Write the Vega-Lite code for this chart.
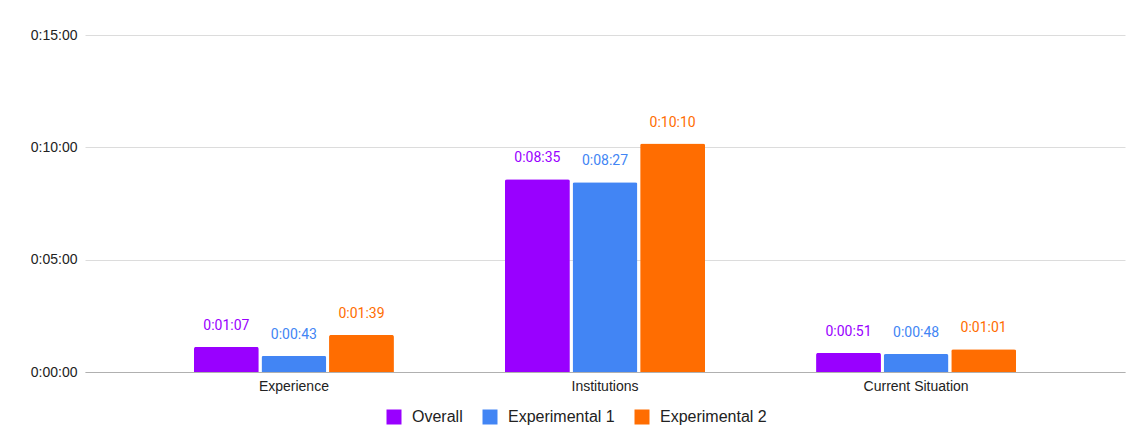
{
  "$schema": "https://vega.github.io/schema/vega-lite/v6.json",
  "width": 1040,
  "height": 337,
  "autosize": {"type": "none"},
  "padding": {"left": 85, "top": 35, "right": 21, "bottom": 74},
  "background": "#ffffff",
  "data": {
    "values": [
      {"topic": "Experience", "group": "Overall", "ms": 67000},
      {"topic": "Experience", "group": "Experimental 1", "ms": 43000},
      {"topic": "Experience", "group": "Experimental 2", "ms": 99000},
      {"topic": "Institutions", "group": "Overall", "ms": 515000},
      {"topic": "Institutions", "group": "Experimental 1", "ms": 507000},
      {"topic": "Institutions", "group": "Experimental 2", "ms": 610000},
      {"topic": "Current Situation", "group": "Overall", "ms": 51000},
      {"topic": "Current Situation", "group": "Experimental 1", "ms": 48000},
      {"topic": "Current Situation", "group": "Experimental 2", "ms": 61000}
    ]
  },
  "encoding": {
    "x": {
      "field": "topic",
      "type": "nominal",
      "sort": null,
      "scale": {"paddingInner": 0.357, "paddingOuter": 0.35},
      "axis": {
        "title": null,
        "labelAngle": 0,
        "ticks": false,
        "labelPadding": 7,
        "labelFont": "Liberation Sans",
        "labelFontSize": 14,
        "labelColor": "#222222",
        "domainColor": "#b0b0b0",
        "domainWidth": 1
      }
    },
    "xOffset": {
      "field": "group",
      "type": "nominal",
      "sort": null,
      "scale": {"paddingInner": 0.04, "paddingOuter": 0}
    },
    "y": {
      "field": "ms",
      "type": "quantitative",
      "scale": {"domain": [0, 900000], "nice": false},
      "axis": {
        "title": null,
        "values": [0, 300000, 600000, 900000],
        "labelExpr": "utcFormat(datum.value, '%-H:%M:%S')",
        "domain": false,
        "ticks": false,
        "labelPadding": 8,
        "labelFont": "Liberation Sans",
        "labelFontSize": 14,
        "labelColor": "#222222",
        "gridColor": "#dcdcdc",
        "gridWidth": 1
      }
    },
    "color": {
      "field": "group",
      "type": "nominal",
      "sort": null,
      "scale": {
        "domain": ["Overall", "Experimental 1", "Experimental 2"],
        "range": ["#9900ff", "#4285f4", "#ff6d01"]
      },
      "legend": {
        "title": null,
        "orient": "none",
        "direction": "horizontal",
        "legendX": 301,
        "legendY": 374,
        "symbolType": "square",
        "symbolSize": 225,
        "symbolStrokeWidth": 0,
        "symbolOpacity": 1,
        "labelFont": "Liberation Sans",
        "labelFontSize": 16,
        "labelColor": "#222222",
        "labelOffset": 10,
        "columnPadding": 19,
        "padding": 0
      }
    }
  },
  "layer": [
    {
      "mark": {"type": "bar", "cornerRadiusTopLeft": 2, "cornerRadiusTopRight": 2}
    },
    {
      "mark": {
        "type": "text",
        "baseline": "alphabetic",
        "dy": -17,
        "font": "Roboto",
        "fontSize": 14
      },
      "encoding": {
        "text": {
          "field": "ms",
          "type": "temporal",
          "timeUnit": "utchoursminutesseconds",
          "format": "%-H:%M:%S"
        }
      }
    }
  ],
  "config": {
    "view": {"stroke": null}
  }
}
